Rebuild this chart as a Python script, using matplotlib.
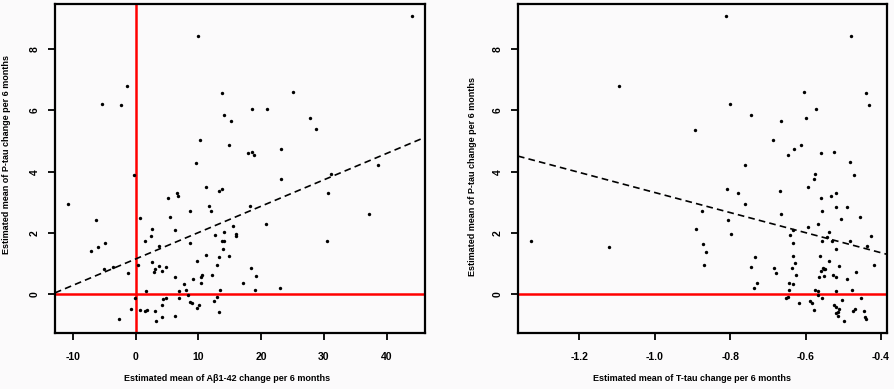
import matplotlib
matplotlib.use('Agg')
import matplotlib.pyplot as plt
import numpy as np

plt.rcParams['axes.unicode_minus'] = False
plt.rcParams['font.family'] = ['Liberation Sans', 'DejaVu Sans']

# left panel: A-beta 1-42 change vs P-tau change
abeta_x = [44.1, 9.9, -1.4, -5.3, -2.4, 13.8, 25.1, 18.6, 20.9, 14.0, 15.2, 27.7, 28.8, 10.3, 14.8,
           17.9, 18.6, 18.9, 23.2, 9.6, 38.6, -0.3, 23.2, 31.1, 11.2, 13.3, 13.8, 30.6, 5.15, 6.6, 6.8,
           -10.75, 37.1, -6.3, 0.7, 5.5, 8.6, 11.7, 12.0, 18.2, 20.7, 6.2, 2.6, 2.4, 15.5, 14.1, 12.7,
           15.9, 16.0, 13.7, 14.1, 1.4, 8.6, 30.5, -4.85, -6.0, -7.1, 3.7, 13.9, 11.2, 13.3, 14.8, 9.7,
           2.6, 12.9, 0.37, -5.1, -3.7, 3.7, 4.8, 3.0, 2.9, 4.25, 18.3, -1.3, 10.6, 12.1, 19.2, 6.2,
           9.1, 10.4, 10.4, 17.1, 7.75, 8.0, 6.9, 1.7, 13.5, 19.0, 23.0, 8.4, -0.16, 6.9, 4.8, 4.35,
           12.9, 12.5, 8.6, 9.0, 4.15, 10.1, 9.7, -0.75, 0.73, 1.8, 1.4, 3.0, 13.2, 6.3, 4.25, -2.7, 3.2]
ptau_left = [9.09, 8.44, 6.79, 6.2, 6.17, 6.58, 6.61, 6.05, 6.05, 5.86, 5.64, 5.77, 5.40, 5.02, 4.87,
             4.62, 4.65, 4.53, 4.75, 4.30, 4.23, 3.88, 3.76, 3.93, 3.51, 3.36, 3.44, 3.32, 3.14, 3.29, 3.22,
             2.95, 2.61, 2.42, 2.48, 2.52, 2.70, 2.87, 2.72, 2.87, 2.30, 2.11, 2.13, 1.90, 2.21, 2.04, 1.93,
             1.91, 1.96, 1.74, 1.74, 1.74, 1.68, 1.74, 1.66, 1.53, 1.41, 1.58, 1.48, 1.27, 1.21, 1.24, 1.09,
             1.04, 0.96, 0.96, 0.83, 0.89, 0.92, 0.87, 0.83, 0.73, 0.77, 0.84, 0.69, 0.64, 0.62, 0.59, 0.56,
             0.49, 0.55, 0.37, 0.37, 0.34, 0.13, 0.09, 0.09, 0.13, 0.15, 0.19, -0.04, -0.12, -0.12, -0.12, -0.17,
             -0.09, -0.21, -0.26, -0.28, -0.34, -0.36, -0.46, -0.48, -0.52, -0.52, -0.56, -0.56, -0.59, -0.71, -0.74, -0.81, -0.89]
fit_left = (1.15, 0.0862)   # intercept, slope

# right panel: T-tau change vs P-tau change
ttau_x = [-0.810, -0.479, -1.094, -0.800, -0.604, -0.439, -0.431, -0.573, -0.746, -0.600, -0.665, -0.893,
          -0.687, -0.612, -0.632, -0.647, -0.559, -0.525, -0.481, -0.761, -0.472, -0.575, -0.577, -0.808,
          -0.780, -0.668, -0.594, -0.532, -0.519, -0.559, -0.761, -0.874, -0.806, -0.665, -0.557, -0.519,
          -0.491, -0.506, -0.456, -0.798, -0.593, -0.567, -0.633, -0.641, -0.633, -0.539, -0.542, -0.556,
          -0.530, -0.481, -0.426, -0.436, -0.519, -0.871, -0.863, -0.869, -0.735, -0.746, -0.633, -0.627,
          -0.562, -0.539, -0.511, -0.466, -0.419, -0.683, -0.679, -0.637, -0.626, -0.555, -0.552, -0.548,
          -0.560, -0.565, -0.551, -0.527, -0.519, -0.491, -0.728, -0.738, -0.643, -0.633, -0.643, -0.575,
          -0.566, -0.518, -0.477, -0.568, -0.652, -0.646, -0.557, -0.503, -0.453, -0.617, -0.588, -0.584,
          -0.525, -0.519, -0.511, -0.515, -0.519, -0.577, -0.469, -0.473, -0.446, -0.514, -0.443, -0.441,
          -0.497, -1.328, -1.121, -0.891]
ptau_right = [9.09, 8.44, 6.79, 6.2, 6.61, 6.58, 6.18, 6.05, 5.86, 5.77, 5.64, 5.37,
              5.02, 4.87, 4.75, 4.53, 4.62, 4.65, 4.31, 4.23, 3.88, 3.94, 3.76, 3.45,
              3.32, 3.36, 3.51, 3.22, 3.29, 3.14, 2.95, 2.72, 2.42, 2.61, 2.70, 2.85,
              2.84, 2.47, 2.52, 1.96, 2.20, 2.30, 2.11, 1.92, 1.68, 2.04, 1.87, 1.73,
              1.73, 1.74, 1.89, 1.58, 1.49, 1.64, 1.38, 0.96, 1.21, 0.89, 1.26, 1.02,
              1.24, 1.09, 0.93, 0.71, 0.96, 0.84, 0.68, 0.84, 0.62, 0.86, 0.81, 0.82,
              0.76, 0.56, 0.59, 0.64, 0.56, 0.50, 0.37, 0.19, 0.37, 0.34, 0.13, 0.15,
              0.10, 0.09, 0.12, -0.04, -0.12, -0.09, -0.12, -0.19, -0.12, -0.28, -0.23, -0.28,
              -0.36, -0.41, -0.49, -0.58, -0.61, -0.53, -0.49, -0.56, -0.55, -0.72, -0.76, -0.82,
              -0.89, 1.74, 1.53, 2.13]
fit_right = (0.04, -3.28)

yticks = [0, 2, 4, 6, 8]
ylabel = 'Estimated mean of P-tau change per 6 months'
xlabel_left = 'Estimated mean of A\u03b21-42 change per 6 months'
xlabel_right = 'Estimated mean of T-tau change per 6 months'

fig = plt.figure(figsize=(8.94, 3.89), dpi=100, facecolor='#fbfafb')
ax1 = fig.add_axes([0.0615, 0.144, 0.4139, 0.8458])
ax2 = fig.add_axes([0.5794, 0.144, 0.4128, 0.8458])

def style(ax):
    ax.set_facecolor('#fbfafb')
    ax.set_yticks(yticks)
    ax.set_ylim(-1.27, 9.48)
    for s in ax.spines.values():
        s.set_linewidth(1.6)
        s.set_color('black')
    ax.tick_params(length=5, width=1.3, direction='out', labelsize=7.5)
    ax.tick_params(axis='x', pad=9)
    ax.tick_params(axis='y', pad=6)
    plt.setp(ax.get_xticklabels(), fontweight='bold')
    plt.setp(ax.get_yticklabels(), fontweight='bold', rotation=90, va='center')

# left
ax1.axhline(0, color='red', lw=1.8, zorder=1)
ax1.axvline(0, color='red', lw=1.8, zorder=1)
ax1.scatter(abeta_x, ptau_left, s=6, color='black', zorder=3, linewidths=0)
ax1.axline((0, fit_left[0]), slope=fit_left[1], color='black', lw=1.2, ls=(0, (4, 2.5)), zorder=2)
ax1.set_xlim(-12.87, 46.1)
ax1.set_xticks([-10, 0, 10, 20, 30, 40])
style(ax1)
ax1.set_xlabel(xlabel_left, fontsize=6.5, fontweight='bold')
ax1.xaxis.set_label_coords(0.464, -0.126)
ax1.set_ylabel(ylabel, fontsize=6.5, fontweight='bold')
ax1.yaxis.set_label_coords(-0.1176, 0.541)

# right
ax2.axhline(0, color='red', lw=1.8, zorder=1)
ax2.scatter(ttau_x, ptau_right, s=6, color='black', zorder=3, linewidths=0)
ax2.axline((0, fit_right[0]), slope=fit_right[1], color='black', lw=1.2, ls=(0, (4, 2.5)), zorder=2)
ax2.set_xlim(-1.3626, -0.384)
ax2.set_xticks([-1.2, -1.0, -0.8, -0.6, -0.4])
ax2.set_xticklabels(['-1.2', '-1.0', '-0.8', '-0.6', '-0.4'])
style(ax2)
ax2.set_xlabel(xlabel_right, fontsize=6.5, fontweight='bold')
ax2.xaxis.set_label_coords(0.4715, -0.126)
ax2.set_ylabel(ylabel, fontsize=6.5, fontweight='bold')
ax2.yaxis.set_label_coords(-0.1106, 0.476)

fig.savefig('out.png', dpi=100, facecolor=fig.get_facecolor())
